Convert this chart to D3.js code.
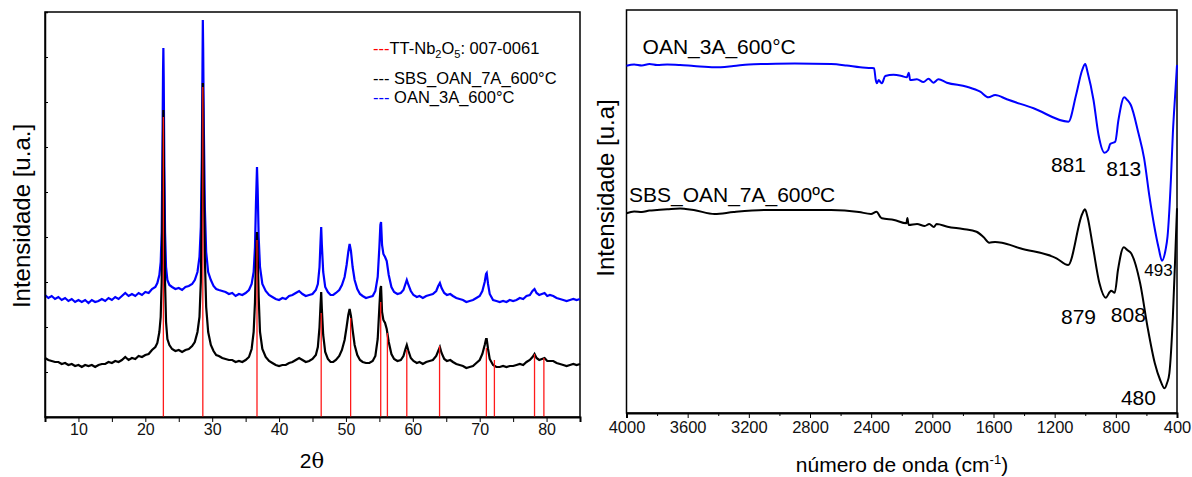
<!DOCTYPE html>
<html lang="pt">
<head>
    <meta charset="UTF-8">
    <title>DRX e FTIR</title>
    <style>
        body { margin: 0; background: #fff; }
        svg { font-family: "Liberation Sans", Arial, sans-serif; }
    </style>
</head>
<body>
<div id="chart"></div>

<script src="https://cdn.jsdelivr.net/npm/d3@7"></script>

<script>
    // ---- DRX data (2theta, intensity a.u.) ----
    var drxBlue = [[5,122],[5.5,119],[6,121],[6.5,118],[7,120],[7.5,117],[8,119],[8.5,116],[9,118],[9.5,115],[10,117],[10.5,115],[11,117],[11.5,114],[12,117],[12.5,115],[13,116],[13.5,118],[14,116],[14.5,119],[15,117],[15.5,120],[16,118],[16.5,121],[17,124],[17.5,121],[18,123],[18.5,121],[19,124],[19.5,122],[20,125],[20.5,124],[21,128],[21.5,130],[21.8,134],[22.1,142],[22.3,155],[22.45,185],[22.55,260],[22.65,345],[22.7,369],[22.75,340],[22.85,250],[22.95,185],[23.1,150],[23.3,137],[23.6,132],[24,130],[24.5,128],[25,129],[25.5,127],[26,130],[26.5,131],[27,133],[27.4,137],[27.8,145],[28.1,160],[28.3,190],[28.45,260],[28.55,350],[28.6,397],[28.65,370],[28.75,290],[28.9,210],[29.1,165],[29.4,145],[29.8,137],[30.2,131],[30.6,128],[31,127],[31.5,126],[32,125],[32.5,123],[33,124],[33.5,121],[34,123],[34.5,122],[35,124],[35.5,127],[35.9,133],[36.2,145],[36.4,170],[36.55,215],[36.7,250],[36.8,228],[36.95,180],[37.15,150],[37.5,133],[38,126],[38.5,122],[39,120],[39.5,118],[40,117],[40.5,119],[41,118],[41.5,121],[42,122],[42.5,124],[43,126],[43.5,123],[44,121],[44.5,122],[45,123],[45.5,127],[45.8,133],[46.05,150],[46.2,175],[46.3,190],[46.4,172],[46.6,145],[46.9,130],[47.3,125],[47.7,122],[48.1,122],[48.5,124],[49,127],[49.4,132],[49.8,140],[50.1,152],[50.35,165],[50.55,173],[50.75,166],[51,150],[51.3,137],[51.7,128],[52.1,123],[52.5,121],[53,119],[53.5,120],[54,121],[54.4,126],[54.75,140],[55,170],[55.15,192],[55.25,195],[55.4,172],[55.6,163],[55.85,160],[56.1,156],[56.4,142],[56.8,130],[57.2,125],[57.7,123],[58.2,124],[58.6,127],[58.9,133],[59.1,137],[59.35,132],[59.7,126],[60.1,122],[60.6,120],[61,121],[61.5,119],[62,121],[62.5,122],[63,123],[63.5,126],[63.8,131],[64.05,134],[64.3,129],[64.7,124],[65.1,122],[65.6,123],[66,121],[66.5,119],[67,118],[67.5,117],[68,115],[68.5,116],[69,117],[69.5,119],[70,121],[70.4,126],[70.75,135],[70.95,143],[71.05,144],[71.25,133],[71.5,123],[72,117],[72.5,116],[73,115],[73.5,116],[74,115],[74.5,117],[75,116],[75.5,117],[76,119],[76.5,118],[77,121],[77.5,122],[77.9,126],[78.2,128],[78.5,124],[78.9,122],[79.3,123],[79.7,124],[80.1,121],[80.5,122],[81,121],[81.5,119],[82,118],[82.5,117],[83,116],[83.5,117],[84,118],[84.5,117],[85,118]];

    var drxBlack = [[5,59],[5.5,57],[6,56],[6.5,55],[7,55],[7.5,53],[8,54],[8.5,52],[9,53],[9.5,51],[10,52],[10.5,50],[11,52],[11.5,51],[12,52],[12.5,50],[13,52],[13.5,53],[14,53],[14.5,55],[15,54],[15.5,56],[16,55],[16.5,57],[17,60],[17.5,57],[18,59],[18.5,58],[19,61],[19.5,60],[20,62],[20.5,63],[21,67],[21.5,70],[21.8,74],[22.1,85],[22.3,100],[22.45,135],[22.55,200],[22.65,280],[22.7,307],[22.75,275],[22.85,195],[22.95,135],[23.1,95],[23.3,78],[23.6,72],[24,68],[24.5,66],[25,67],[25.5,65],[26,67],[26.5,68],[27,71],[27.4,75],[27.8,85],[28.1,100],[28.3,135],[28.45,210],[28.55,300],[28.6,334],[28.65,310],[28.75,235],[28.9,160],[29.1,110],[29.4,85],[29.8,72],[30.2,66],[30.6,62],[31,61],[31.5,59],[32,58],[32.5,57],[33,57],[33.5,55],[34,56],[34.5,55],[35,57],[35.5,60],[35.9,68],[36.2,85],[36.4,115],[36.55,160],[36.7,185],[36.8,165],[36.95,120],[37.15,85],[37.5,68],[38,60],[38.5,56],[39,54],[39.5,52],[40,51],[40.5,52],[41,52],[41.5,54],[42,55],[42.5,57],[43,59],[43.5,57],[44,55],[44.5,56],[45,58],[45.5,62],[45.8,70],[46.05,90],[46.2,112],[46.3,125],[46.4,108],[46.6,82],[46.9,65],[47.3,58],[47.7,55],[48.1,55],[48.5,57],[49,61],[49.4,67],[49.8,77],[50.1,90],[50.35,102],[50.55,108],[50.75,101],[51,87],[51.3,72],[51.7,62],[52.1,57],[52.5,55],[53,54],[53.5,54],[54,56],[54.4,61],[54.75,78],[55,110],[55.15,128],[55.25,131],[55.4,105],[55.6,97],[55.85,94],[56.1,88],[56.4,75],[56.8,63],[57.2,58],[57.7,56],[58.2,57],[58.6,61],[58.9,68],[59.1,72],[59.35,66],[59.7,59],[60.1,56],[60.6,54],[61,55],[61.5,53],[62,55],[62.5,56],[63,57],[63.5,61],[63.8,66],[64.05,70],[64.3,64],[64.7,58],[65.1,56],[65.6,57],[66,55],[66.5,53],[67,52],[67.5,51],[68,49],[68.5,50],[69,51],[69.5,54],[70,57],[70.4,63],[70.75,72],[70.95,78],[71.05,78],[71.25,68],[71.5,58],[72,52],[72.5,50],[73,50],[73.5,51],[74,50],[74.5,51],[75,51],[75.5,52],[76,53],[76.5,52],[77,55],[77.5,57],[77.9,60],[78.2,63],[78.5,59],[78.9,57],[79.3,58],[79.7,59],[80.1,56],[80.5,56],[81,56],[81.5,54],[82,53],[82.5,52],[83,51],[83.5,52],[84,53],[84.5,52],[85,53]];

    // TT-Nb2O5 reference card 007-0061 (2theta, relative height)
    var refPos = [22.7, 28.6, 36.7, 46.3, 50.7, 55.2, 56.2, 59.1, 64.0, 71.0, 72.2, 78.2, 79.6];
    var refHeight = [300, 330, 177, 104, 99, 115, 84, 67, 71, 69, 57, 63, 59];

    var drxTicks = [10, 20, 30, 40, 50, 60, 70, 80];

    // ---- FTIR data (wavenumber cm-1, transmittance a.u.) ----
    var ftirBlue = [[4000,347.3],[3950,348.5],[3900,347.5],[3850,349],[3800,348],[3734,348.5],[3650,348],[3560,347],[3424,345.7],[3300,347],[3200,348.5],[3090,349],[2900,349.5],[2662,349],[2560,347.5],[2472,345.7],[2400,345],[2381,344.7],[2370,333],[2363,329.7],[2350,333],[2340,331],[2330,329.7],[2308,337],[2254,338.3],[2200,337],[2167,335.7],[2154,340.3],[2145,333],[2101,333.7],[2058,331],[2025,334.3],[1993,330.3],[1960,333.7],[1905,330.3],[1774,326.3],[1687,321.3],[1633,315.7],[1589,318],[1513,313.7],[1338,304.7],[1110,291.3],[1060,318],[1020,343],[1000,349],[985,341],[946,313],[913,278],[874,260.3],[850,263],[837,269],[804,271.3],[783,293],[745,315.7],[725,313],[702,308],[652,279.7],[615,254.7],[580,216.3],[550,188],[520,165],[498,152.3],[475,163],[462,176.3],[440,233],[427,280],[410,323],[400,348]];

    var ftirBlack = [[4000,199.7],[3950,201.5],[3900,201],[3850,202.5],[3800,203],[3734,203.7],[3650,204.5],[3613,204],[3560,203],[3424,199],[3300,201],[3090,203],[2900,203],[2662,203],[2480,201],[2401,199],[2365,201.3],[2340,196],[2330,194.7],[2250,193],[2170,189.7],[2163,195],[2155,188],[2100,189],[2050,187],[2020,189],[1990,186],[1972,189],[1901,186.3],[1800,184],[1711,181.3],[1664,175.7],[1628,170.3],[1590,171],[1545,170.3],[1426,164.7],[1188,154.7],[1112,148],[1020,199],[1002,203.7],[985,196],[950,166.3],[907,129.7],[866,115.3],[840,121],[831,122.3],[807,120.3],[786,143],[748,165.7],[725,163],[700,159.7],[641,129.7],[593,86.3],[545,49.7],[510,33],[481,24.7],[465,30],[450,39.7],[427,96.3],[410,163],[400,204.7]];

    var ftirTicks = [4000, 3600, 3200, 2800, 2400, 2000, 1600, 1200, 800, 400];

    // band labels: text, wavenumber, level, size
    var bandLabels = [
        {t: "881", wn: 1110, v: 241, s: 21},
        {t: "813", wn: 748, v: 237, s: 21},
        {t: "493", wn: 521, v: 137, s: 17},
        {t: "879", wn: 1044, v: 89, s: 21},
        {t: "808", wn: 718, v: 91, s: 21},
        {t: "480", wn: 652, v: 8, s: 21}
    ];

    var svg = d3.select("#chart").append("svg")
        .attr("width", 1192)
        .attr("height", 477);

    // ================= left panel: DRX =================
    var xL = d3.scaleLinear().domain([5, 85]).range([45, 580]);
    var yL = d3.scaleLinear().domain([0, 405]).range([417, 12]);

    var left = svg.append("g");

    left.append("rect")
        .attr("x", 45).attr("y", 12)
        .attr("width", 535).attr("height", 405)
        .attr("fill", "none").attr("stroke", "#000").attr("stroke-width", 1.5);

    var lineL = d3.line().x(d => xL(d[0])).y(d => yL(d[1]));

    left.append("path").datum(drxBlue)
        .attr("d", lineL)
        .attr("fill", "none").attr("stroke", "#0000ff").attr("stroke-width", 2.2);

    left.append("path").datum(drxBlack)
        .attr("d", lineL)
        .attr("fill", "none").attr("stroke", "#000").attr("stroke-width", 2.2);

    // reference bars in red, drawn on top
    left.append("g").selectAll("line")
        .data(refPos)
        .enter()
        .append("line")
        .attr("x1", d => xL(d)).attr("x2", d => xL(d))
        .attr("y1", yL(0))
        .attr("y2", (d, i) => yL(refHeight[i]))
        .attr("stroke", "#ff1a1a").attr("stroke-width", 1.3);

    // x axis
    var axL = left.append("g")
        .attr("transform", "translate(0,417)")
        .call(d3.axisBottom(xL)
            .tickValues(d3.range(5, 86, 5))
            .tickFormat(d => drxTicks.indexOf(d) >= 0 ? d : "")
            .tickSize(5).tickPadding(2));
    axL.select(".domain").attr("stroke-width", 2);
    axL.selectAll("text").attr("font-size", 16).attr("font-family", "Liberation Sans, Arial, sans-serif").attr("fill", "#111");

    // y axis (ticks only, pointing in)
    var ayL = left.append("g")
        .attr("transform", "translate(45,0)")
        .call(d3.axisLeft(yL).tickValues(d3.range(0, 406, 45)).tickSize(-3).tickFormat(""));
    ayL.select(".domain").attr("stroke-width", 1.5);

    left.append("text")
        .attr("x", 312).attr("y", 468)
        .attr("text-anchor", "middle")
        .attr("font-size", 21)
        .html('2<tspan font-family="DejaVu Serif, serif">&#952;</tspan>');

    left.append("text")
        .attr("transform", "translate(30,216) rotate(-90)")
        .attr("text-anchor", "middle")
        .attr("font-size", 24)
        .text("Intensidade [u.a.]");

    // legend
    var leg = left.append("g").attr("font-size", 16.5);
    leg.append("text").attr("x", 373).attr("y", 54)
        .html('<tspan fill="#ff0000">---</tspan>TT-Nb<tspan font-size="11" dy="4">2</tspan><tspan dy="-4">O</tspan><tspan font-size="11" dy="4">5</tspan><tspan dy="-4">: 007-0061</tspan>');
    leg.append("text").attr("x", 373).attr("y", 84)
        .html('<tspan fill="#000">---</tspan> SBS_OAN_7A_600°C');
    leg.append("text").attr("x", 373).attr("y", 103)
        .html('<tspan fill="#0000ff">---</tspan> OAN_3A_600°C');

    // ================= right panel: FTIR =================
    var xR = d3.scaleLinear().domain([4000, 400]).range([626.5, 1177]);
    var yR = d3.scaleLinear().domain([0, 403]).range([413, 10]);

    var right = svg.append("g");

    right.append("rect")
        .attr("x", 626.5).attr("y", 10)
        .attr("width", 550.5).attr("height", 403)
        .attr("fill", "none").attr("stroke", "#000").attr("stroke-width", 1.5);

    var lineR = d3.line().x(d => xR(d[0])).y(d => yR(d[1])).curve(d3.curveMonotoneX);

    right.append("path").datum(ftirBlue)
        .attr("d", lineR)
        .attr("fill", "none").attr("stroke", "#0000ff").attr("stroke-width", 2);

    right.append("path").datum(ftirBlack)
        .attr("d", lineR)
        .attr("fill", "none").attr("stroke", "#000").attr("stroke-width", 2);

    // minor ticks
    right.append("g")
        .attr("transform", "translate(0,413)")
        .call(d3.axisBottom(xR).tickValues(d3.range(3800, 400, -400)).tickSize(3).tickFormat(""))
        .select(".domain").remove();

    var axR = right.append("g")
        .attr("transform", "translate(0,413)")
        .call(d3.axisBottom(xR).tickValues(ftirTicks).tickFormat(d3.format("d")).tickSize(5).tickPadding(3));
    axR.select(".domain").attr("stroke-width", 2);
    axR.selectAll("text").attr("font-size", 16.5).attr("font-family", "Liberation Sans, Arial, sans-serif").attr("fill", "#111");

    right.append("text")
        .attr("x", 902).attr("y", 472)
        .attr("text-anchor", "middle")
        .attr("font-size", 21)
        .html('número de onda (cm<tspan font-size="13" dy="-8">-1</tspan><tspan dy="8">)</tspan>');

    right.append("text")
        .attr("transform", "translate(614,188) rotate(-90)")
        .attr("text-anchor", "middle")
        .attr("font-size", 24)
        .text("Intensidade [u.a]");

    // series names
    right.append("text")
        .attr("x", xR(3895)).attr("y", yR(359))
        .attr("font-size", 21)
        .text("OAN_3A_600°C");
    right.append("text")
        .attr("x", xR(3984)).attr("y", yR(211.3))
        .attr("font-size", 21)
        .text("SBS_OAN_7A_600ºC");

    right.append("g").selectAll("text")
        .data(bandLabels)
        .enter()
        .append("text")
        .attr("x", d => xR(d.wn))
        .attr("y", d => yR(d.v))
        .attr("text-anchor", "middle")
        .attr("font-size", d => d.s)
        .text(d => d.t);
</script>

</body>
</html>
